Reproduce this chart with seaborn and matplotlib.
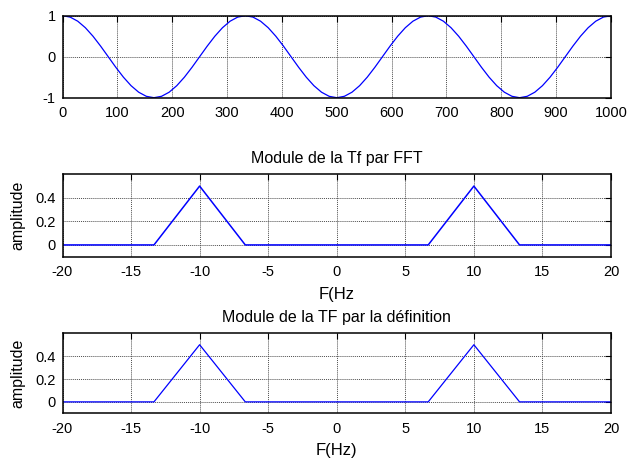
import numpy as np
import pandas as pd
import matplotlib
matplotlib.use("Agg")
import matplotlib.pyplot as plt
import seaborn as sns

# Sampled cosine (3 periods over 1000 samples), one value every 15 degrees
signal = [
    1.000, 0.966, 0.866, 0.707, 0.500, 0.259, 0.000, -0.259, -0.500, -0.707, -0.866, -0.966,
    -1.000, -0.966, -0.866, -0.707, -0.500, -0.259, 0.000, 0.259, 0.500, 0.707, 0.866, 0.966,
    1.000, 0.966, 0.866, 0.707, 0.500, 0.259, 0.000, -0.259, -0.500, -0.707, -0.866, -0.966,
    -1.000, -0.966, -0.866, -0.707, -0.500, -0.259, 0.000, 0.259, 0.500, 0.707, 0.866, 0.966,
    1.000, 0.966, 0.866, 0.707, 0.500, 0.259, 0.000, -0.259, -0.500, -0.707, -0.866, -0.966,
    -1.000, -0.966, -0.866, -0.707, -0.500, -0.259, 0.000, 0.259, 0.500, 0.707, 0.866, 0.966,
    1.000,
]
sample_index = np.linspace(0, 1000, len(signal))

# Frequency bins (Hz) and spectrum magnitudes
freq_hz = [-20.0, -16.67, -13.33, -10.0, -6.67, -3.33, 0.0, 3.33, 6.67, 10.0, 13.33, 16.67, 20.0]
amp_fft = [0.0, 0.0, 0.0, 0.5, 0.0, 0.0, 0.0, 0.0, 0.0, 0.5, 0.0, 0.0, 0.0]
amp_def = [0.0, 0.0, 0.0, 0.5, 0.0, 0.0, 0.0, 0.0, 0.0, 0.5, 0.0, 0.0, 0.0]

time_ticks = [0, 100, 200, 300, 400, 500, 600, 700, 800, 900, 1000]
sig_ticks = [-1, 0, 1]
freq_ticks = [-20, -15, -10, -5, 0, 5, 10, 15, 20]
amp_ticks = [0, 0.2, 0.4]

sns.set_theme(style="white")
plt.rcParams["font.family"] = ["Liberation Sans", "DejaVu Sans"]
plt.rcParams["axes.unicode_minus"] = False
plt.rcParams["text.color"] = "black"
plt.rcParams["axes.labelcolor"] = "black"

fig = plt.figure(figsize=(6.28, 4.59), dpi=100)
W, H = 628, 459


def make_axes(left, top, right, bottom):
    return fig.add_axes([left / W, 1 - bottom / H, (right - left) / W, (bottom - top) / H])


def style(ax, xticks, yticks):
    ax.set_xticks(xticks)
    ax.set_yticks(yticks)
    ax.grid(True, color="0.3", linestyle=(0, (1, 1)), linewidth=0.7)
    ax.tick_params(direction="in", length=4.5, width=0.8, top=True, right=True,
                   labelsize=10.5, colors="black")
    ax.tick_params(axis="x", pad=6)
    ax.tick_params(axis="y", pad=5)
    for s in ax.spines.values():
        s.set_color("black")
        s.set_linewidth(1.1)
    ax.set_facecolor("white")


blue = "#0000ff"

ax1 = make_axes(62.5, 15.7, 611, 97.7)
sns.lineplot(x=sample_index, y=signal, ax=ax1, color=blue, linewidth=0.9)
ax1.set_xlim(0, 1000)
ax1.set_ylim(-1, 1)
style(ax1, time_ticks, sig_ticks)

ax2 = make_axes(62.5, 174.3, 611, 256.7)
df_fft = pd.DataFrame({"f": freq_hz, "a": amp_fft})
sns.lineplot(data=df_fft, x="f", y="a", ax=ax2, color=blue, linewidth=1.1)
ax2.set_xlim(-20, 20)
ax2.set_ylim(-0.1, 0.6)
style(ax2, freq_ticks, amp_ticks)
ax2.set_yticklabels(["0", "0.2", "0.4"])
ax2.set_xticklabels([str(t) for t in freq_ticks])
ax2.set_title("Module de la Tf par FFT", fontsize=11.5, pad=8, color="black")
ax2.set_xlabel("F(Hz", fontsize=12, labelpad=6, color="black")
ax2.set_ylabel("amplitude", fontsize=11.5, labelpad=7, color="black")

ax3 = make_axes(62.5, 333.3, 611, 413.3)
df_def = pd.DataFrame({"f": freq_hz, "a": amp_def})
sns.lineplot(data=df_def, x="f", y="a", ax=ax3, color=blue, linewidth=0.9)
ax3.set_xlim(-20, 20)
ax3.set_ylim(-0.1, 0.6)
style(ax3, freq_ticks, amp_ticks)
ax3.set_yticklabels(["0", "0.2", "0.4"])
ax3.set_xticklabels([str(t) for t in freq_ticks])
ax3.set_title("Module de la TF par la définition", fontsize=11.5, pad=8, color="black")
ax3.set_xlabel("F(Hz)", fontsize=12, labelpad=5, color="black")
ax3.set_ylabel("amplitude", fontsize=11.5, labelpad=7, color="black")

fig.savefig("out.png", dpi=100)
